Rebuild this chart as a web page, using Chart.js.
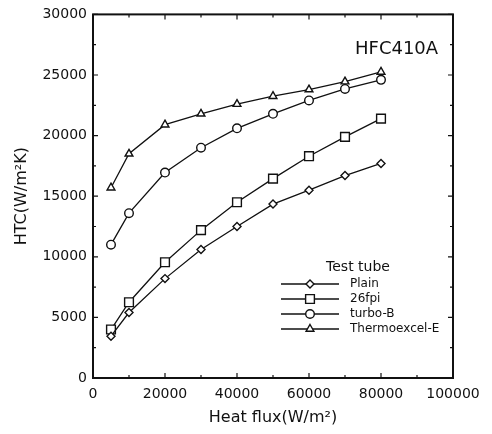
<!DOCTYPE html>
<html>
<head>
<meta charset="utf-8">
<script src="https://cdn.jsdelivr.net/npm/chart.js@4"></script>
<style>
  html, body { margin: 0; padding: 0; background: #fff; }
  #wrap { width: 492px; height: 434px; }
</style>
</head>
<body>
<div id="wrap"><canvas id="chart" width="492" height="434"></canvas></div>
<script>
// heat flux (W/m2)
const heatFlux = [5000, 10000, 20000, 30000, 40000, 50000, 60000, 70000, 80000]

// HTC values (W/m2K)
const plain = [3450, 5400, 8200, 10600, 12500, 14350, 15500, 16700, 17700]
const fpi26 = [4000, 6250, 9550, 12200, 14500, 16450, 18300, 19900, 21400]
const turboB = [11000, 13600, 16950, 19000, 20600, 21800, 22900, 23850, 24600]
const thermoE = [15700, 18500, 20900, 21800, 22600, 23250, 23800, 24450, 25250]

const seriesNames = ["Plain", "26fpi", "turbo-B", "Thermoexcel-E"]
const xTicks = [0, 20000, 40000, 60000, 80000, 100000]
const yTicks = [0, 5000, 10000, 15000, 20000, 25000, 30000]

const FONT = "'DejaVu Sans', sans-serif"
const INK = "#111"

const toPoints = (vals) => heatFlux.map((x, i) => ({ x, y: vals[i] }))

const makeSet = (label, vals, style, radius) => ({
    label,
    data: toPoints(vals),
    borderColor: INK,
    borderWidth: 1.3,
    pointStyle: style,
    pointRadius: radius,
    pointBorderWidth: 1.4,
    pointBackgroundColor: "#fff",
    pointBorderColor: INK,
    tension: 0,
})

// box, inward ticks on all four sides, label + legend
const framePlugin = {
    id: "frame",
    afterDraw(chart) {
        const { ctx, chartArea: a, scales } = chart
        const xs = scales.x
        const ys = scales.y
        ctx.save()
        ctx.strokeStyle = INK
        ctx.lineWidth = 1.2
        for (let v = 0; v <= 100000; v += 10000) {
            const px = xs.getPixelForValue(v)
            const len = v % 20000 === 0 ? 5 : 3
            ctx.beginPath()
            ctx.moveTo(px, a.bottom)
            ctx.lineTo(px, a.bottom - len)
            ctx.moveTo(px, a.top)
            ctx.lineTo(px, a.top + len)
            ctx.stroke()
        }
        for (let v = 0; v <= 30000; v += 2500) {
            const py = ys.getPixelForValue(v)
            const len = v % 5000 === 0 ? 5 : 3
            ctx.beginPath()
            ctx.moveTo(a.left, py)
            ctx.lineTo(a.left + len, py)
            ctx.moveTo(a.right, py)
            ctx.lineTo(a.right - len, py)
            ctx.stroke()
        }
        ctx.lineWidth = 2
        ctx.strokeRect(a.left, a.top, a.right - a.left, a.bottom - a.top)

        // refrigerant label
        ctx.fillStyle = INK
        ctx.font = "18px " + FONT
        ctx.textAlign = "left"
        ctx.textBaseline = "alphabetic"
        ctx.fillText("HFC410A", 355, 54)

        // legend
        ctx.font = "14px " + FONT
        ctx.textAlign = "center"
        ctx.textBaseline = "middle"
        ctx.fillText("Test tube", 358, 267)
        ctx.font = "12px " + FONT
        chart.data.datasets.forEach((ds, i) => {
            const y = 284 + i * 15
            ctx.strokeStyle = INK
            ctx.lineWidth = 1.3
            ctx.beginPath()
            ctx.moveTo(281, y)
            ctx.lineTo(339, y)
            ctx.stroke()
            ctx.fillStyle = "#fff"
            ctx.lineWidth = 1.4
            Chart.helpers.drawPoint(ctx, { pointStyle: ds.pointStyle, radius: ds.pointRadius, borderWidth: 1.4 }, 310, y)
            ctx.fillStyle = INK
            ctx.textAlign = "left"
            ctx.fillText(ds.label, 350, y)
        })
        ctx.restore()
    },
}

new Chart(document.getElementById("chart"), {
    type: "line",
    data: {
        datasets: [
            makeSet(seriesNames[0], plain, "rectRot", 4),
            makeSet(seriesNames[1], fpi26, "rect", 6.2),
            makeSet(seriesNames[2], turboB, "circle", 4.3),
            makeSet(seriesNames[3], thermoE, "triangle", 4.5),
        ],
    },
    options: {
        responsive: false,
        animation: false,
        devicePixelRatio: 1,
        layout: {
            padding: { left: 0, top: 13, right: 39, bottom: 0 },
        },
        plugins: {
            legend: { display: false },
            tooltip: { enabled: false },
        },
        scales: {
            x: {
                type: "linear",
                min: 0,
                max: 100000,
                afterBuildTicks: (s) => { s.ticks = xTicks.map((value) => ({ value })) },
                afterFit: (s) => { s.height = 56 },
                grid: { display: false, drawTicks: false },
                border: { display: false },
                ticks: {
                    color: INK,
                    font: { family: FONT, size: 14 },
                    padding: 8,
                    maxRotation: 0,
                    callback: (v) => String(v),
                },
                title: {
                    display: true,
                    text: "Heat flux(W/m²)",
                    color: INK,
                    font: { family: FONT, size: 16 },
                    padding: { bottom: 7 },
                },
            },
            y: {
                type: "linear",
                min: 0,
                max: 30000,
                afterBuildTicks: (s) => { s.ticks = yTicks.map((value) => ({ value })) },
                afterFit: (s) => { s.width = 93 },
                grid: { display: false, drawTicks: false },
                border: { display: false },
                ticks: {
                    color: INK,
                    font: { family: FONT, size: 14 },
                    padding: 6,
                    callback: (v) => String(v),
                },
                title: {
                    display: true,
                    text: "HTC(W/m²K)",
                    color: INK,
                    font: { family: FONT, size: 16 },
                    padding: { top: 12 },
                },
            },
        },
    },
    plugins: [framePlugin],
})
</script>
</body>
</html>
